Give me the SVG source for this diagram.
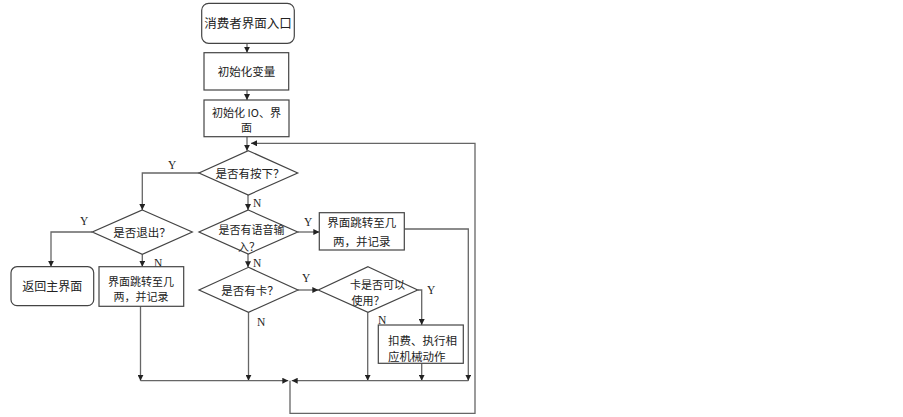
<svg xmlns="http://www.w3.org/2000/svg" width="903" height="417" viewBox="0 0 903 417">
<defs>
<marker id="ah" markerWidth="6" markerHeight="6" refX="6" refY="3" orient="auto" markerUnits="userSpaceOnUse">
<path d="M0,0 L6,3 L0,6 z" fill="#222"/>
</marker>
</defs>
<style>
.shape{fill:#fff;stroke:#444;stroke-width:1.2}
.t{font-family:"Noto Sans CJK SC","Noto Sans",sans-serif;font-size:11.5px;fill:#222}
.t2{font-size:11px}
.c{text-anchor:middle}
.lbl{font-family:"Liberation Serif",serif;font-size:11.5px;fill:#222}
.ln{fill:none;stroke:#666;stroke-width:1.3}
.ar{marker-end:url(#ah)}
</style>
<rect width="903" height="417" fill="#fff"/>
<g id="connectors">
<path class="ln ar" d="M247,43.3 V52.7"/>
<path class="ln ar" d="M247,90 V100"/>
<path class="ln ar" d="M247,136.7 V150.7"/>
<path class="ln ar" d="M199,173 H142.3 V210"/>
<path class="ln ar" d="M248,195 V210"/>
<path class="ln ar" d="M92.3,232 H51 V266.7"/>
<path class="ln ar" d="M142.3,254.3 V266.7"/>
<path class="ln ar" d="M297.7,232 H319.3"/>
<path class="ln ar" d="M248,254 V267.3"/>
<path class="ln ar" d="M298,290 H318.3"/>
<path class="ln ar" d="M248.5,312.3 V380.7"/>
<path class="ln ar" d="M367.7,312.3 V380.7"/>
<path class="ln ar" d="M417.7,290 H421.7 V325"/>
<path class="ln ar" d="M421.7,363.3 V380.7"/>
<path class="ln ar" d="M404.3,229 H468.3 V380.7"/>
<path class="ln ar" d="M140.5,306.3 V380.7"/>
<path class="ln ar" d="M140.5,380.7 H288.3"/>
<path class="ln ar" d="M468.3,380.7 H291.7"/>
<path class="ln ar" d="M290,380.7 V413.3 H475 V143.3 H251"/>
<text class="lbl" x="168" y="169">Y</text>
<text class="lbl" x="253" y="207">N</text>
<text class="lbl" x="80" y="225">Y</text>
<text class="lbl" x="154" y="267">N</text>
<text class="lbl" x="304" y="226">Y</text>
<text class="lbl" x="253" y="267">N</text>
<text class="lbl" x="302" y="282">Y</text>
<text class="lbl" x="257" y="326">N</text>
<text class="lbl" x="427" y="294">Y</text>
<text class="lbl" x="378" y="324">N</text>
</g>
<g id="start">
<rect class="shape" x="201.7" y="3.3" width="92.6" height="40" rx="7"/>
<text class="t c" x="248" y="27.5" style="font-size:12.5px">消费者界面入口</text>
</g>
<g id="init-var">
<rect class="shape" x="204" y="52.7" width="84.7" height="37.3"/>
<text class="t c" x="246.5" y="75.5">初始化变量</text>
</g>
<g id="init-io">
<rect class="shape" x="204" y="100" width="85" height="36.7"/>
<text class="t t2 c" x="246.5" y="116.5">初始化 IO、界</text>
<text class="t t2 c" x="246.5" y="131.5">面</text>
</g>
<g id="pressed">
<polygon class="shape" points="248.3,150.7 297.7,173 248.3,195 199,173"/>
<text class="t c" x="250" y="177.5">是否有按下？</text>
</g>
<g id="exit">
<polygon class="shape" points="142.3,210 192.3,232 142.3,254.3 92.3,232"/>
<text class="t c" x="142" y="236.5">是否退出？</text>
</g>
<g id="voice">
<polygon class="shape" points="248.3,210 297.7,232 248.3,254 199,232"/>
<text class="t t2 c" x="251.5" y="234">是否有语音输</text>
<text class="t t2 c" x="249" y="250.5">入？</text>
</g>
<g id="jump-right">
<rect class="shape" x="319.3" y="212.7" width="85" height="37.3"/>
<text class="t c" x="361.8" y="227">界面跳转至几</text>
<text class="t c" x="361.8" y="246">两，并记录</text>
</g>
<g id="home">
<rect class="shape" x="11" y="266.7" width="82.7" height="39" rx="6"/>
<text class="t c" x="52.3" y="290.5" style="font-size:12px">返回主界面</text>
</g>
<g id="jump-left">
<rect class="shape" x="99" y="266.7" width="84.7" height="39.6"/>
<text class="t t2 c" x="141" y="286">界面跳转至几</text>
<text class="t t2 c" x="141" y="301">两，并记录</text>
</g>
<g id="card">
<polygon class="shape" points="248.5,267.3 298,290 248.5,312.3 199,290"/>
<text class="t c" x="250" y="294.5">是否有卡？</text>
</g>
<g id="card-ok">
<polygon class="shape" points="368,266.7 417.7,290 368,312.3 318.3,290"/>
<text class="t t2" x="350" y="288.5">卡是否可以</text>
<text class="t t2" x="351.5" y="305">使用？</text>
</g>
<g id="charge">
<rect class="shape" x="378.3" y="325" width="85" height="38.3"/>
<text class="t" x="388" y="345">扣费、执行相</text>
<text class="t" x="388" y="361">应机械动作</text>
</g>
</svg>
